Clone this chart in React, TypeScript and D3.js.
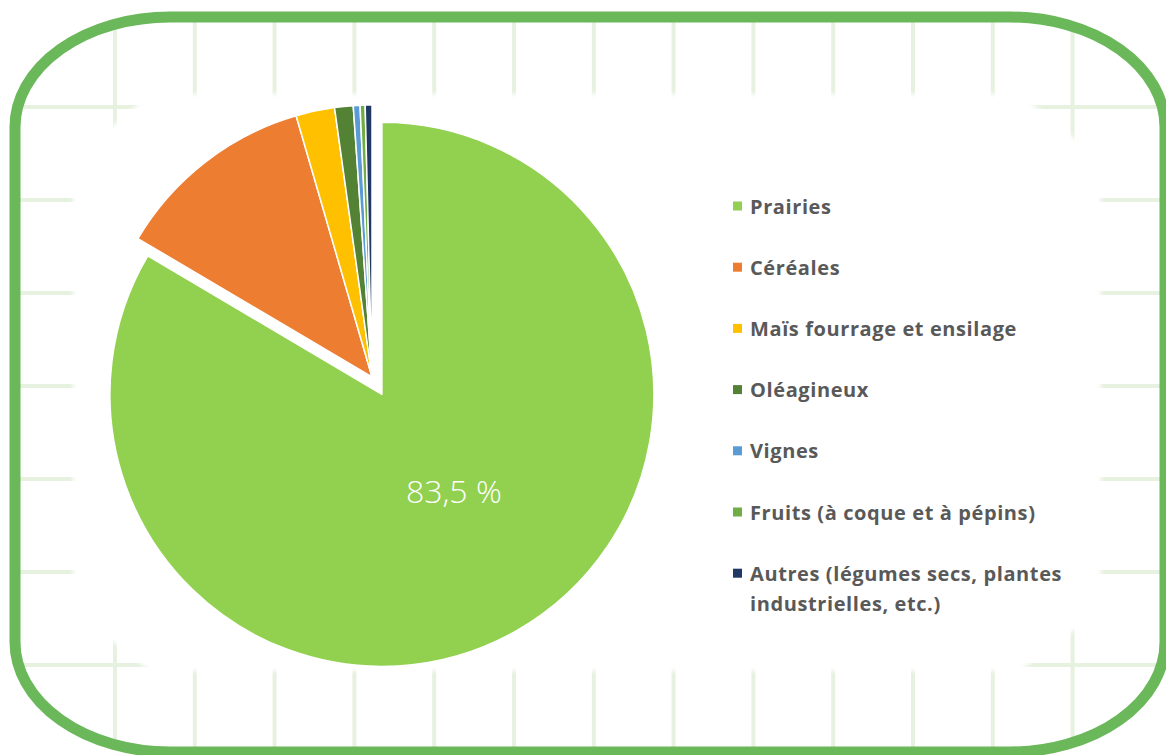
import React from "react";
import * as d3 from "d3";

const categories = [
  "Prairies",
  "Céréales",
  "Maïs fourrage et ensilage",
  "Oléagineux",
  "Vignes",
  "Fruits (à coque et à pépins)",
  "Autres (légumes secs, plantes industrielles, etc.)",
];
const legendLines = [
  ["Prairies"],
  ["Céréales"],
  ["Maïs fourrage et ensilage"],
  ["Oléagineux"],
  ["Vignes"],
  ["Fruits (à coque et à pépins)"],
  ["Autres (légumes secs, plantes", "industrielles, etc.)"],
];
const values = [83.5, 12.0, 2.3, 1.1, 0.4, 0.3, 0.4];
const colors = ["#92d050", "#ed7d31", "#ffc000", "#548235", "#5b9bd5", "#70ad47", "#203864"];
const labelText = "83,5 %";

const W = 1166;
const H = 755;

export default function App() {
  const cx = 372;
  const cy = 377;
  const r = 272;
  const explode = 20;

  const pie = d3.pie<number>().sort(null).value((d) => d);
  const arcs = pie(values);
  const arcGen = d3.arc<d3.PieArcDatum<number>>().innerRadius(0).outerRadius(r);

  // background grid (decoration)
  const gx = d3.range(13).map((i) => 115 + 79.8 * i);
  const gy = d3.range(7).map((j) => 107 + 93 * j);

  const bx = 15, by = 17, bw = 1150, bh = 735, brx = 155, bry = 110;

  const wx0 = 73, wx1 = 1101, wy0 = 94, wy1 = 671;
  const whitePoly = [
    [wx0, 160], [150, wy0], [1020, wy0], [wx1, 160],
    [wx1, 610], [1020, wy1], [150, wy1], [wx0, 610],
  ].map((p) => p.join(",")).join(" ");

  const legendX = 733;
  const legendY0 = 206;
  const legendStep = 61.2;

  const a0 = arcs[0];
  const mid0 = (a0.startAngle + a0.endAngle) / 2;
  const ex = explode * Math.sin(mid0);
  const ey = -explode * Math.cos(mid0);
  const [lx, ly] = d3.arc<d3.PieArcDatum<number>>().innerRadius(125).outerRadius(125).centroid(a0);

  return (
    <svg width={W} height={H} style={{ position: "absolute", left: 0, top: 0, background: "#ffffff" }}>
      <defs>
        <clipPath id="inside">
          <rect x={bx} y={by} width={bw} height={bh} rx={brx} ry={bry} />
        </clipPath>
        <filter id="soft" x="-5%" y="-5%" width="110%" height="110%">
          <feGaussianBlur stdDeviation="2" />
        </filter>
      </defs>
      <g clipPath="url(#inside)">
        {gx.map((x, i) => (
          <line key={"v" + i} x1={x} x2={x} y1={0} y2={H} stroke="#e6f1df" strokeWidth={4} />
        ))}
        {gy.map((y, i) => (
          <line key={"h" + i} x1={0} x2={W} y1={y} y2={y} stroke="#e6f1df" strokeWidth={4} />
        ))}
        <polygon points={whitePoly} fill="#ffffff" filter="url(#soft)" />
      </g>
      <rect x={bx} y={by} width={bw} height={bh} rx={brx} ry={bry} fill="none" stroke="#6bb85b" strokeWidth={11} />

      <g transform={`translate(${cx},${cy})`}>
        {arcs.map((a, i) => (
          <path
            key={i}
            d={arcGen(a) || ""}
            transform={i === 0 ? `translate(${ex},${ey})` : undefined}
            fill={colors[i]}
            stroke="#ffffff"
            strokeWidth={1.5}
            strokeLinejoin="round"
          />
        ))}
        <text
          x={ex + lx + 10}
          y={ey + ly - 12}
          textAnchor="middle"
          dominantBaseline="central"
          fill="#ffffff"
          fontFamily="'Century Gothic', 'Open Sans', 'Noto Sans', sans-serif"
          fontWeight={300}
          fontSize={32}
        >
          {labelText}
        </text>
      </g>

      <g fontFamily="'Century Gothic', 'Open Sans', 'Noto Sans', sans-serif" fontWeight={700} fontSize={20} letterSpacing={0.6} fill="#595959">
        {categories.map((c, i) => {
          const y = legendY0 + i * legendStep;
          return (
            <g key={c}>
              <rect x={legendX} y={y - 4.5} width={9} height={9} fill={colors[i]} />
              {legendLines[i].map((line, k) => (
                <text key={k} x={legendX + 17} y={y + k * 30} dominantBaseline="central">
                  {line}
                </text>
              ))}
            </g>
          );
        })}
      </g>
    </svg>
  );
}
